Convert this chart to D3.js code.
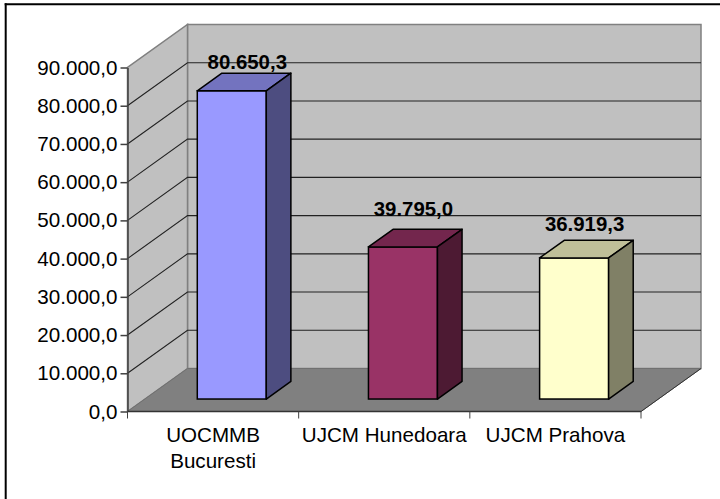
<!DOCTYPE html>
<html><head><meta charset="utf-8">
<style>html,body{margin:0;padding:0;background:#fff;overflow:hidden}svg{display:block}text{font-family:"Liberation Sans",Arial,sans-serif;fill:#000}</style>
<script src="https://cdn.jsdelivr.net/npm/d3@7"></script></head><body>
<svg id="c" width="720" height="499"></svg>
<script>
const categories=[["UOCMMB","Bucuresti"],["UJCM Hunedoara"],["UJCM Prahova"]];
const values=[80650.3,39795.0,36919.3];
const valueLabels=["80.650,3","39.795,0","36.919,3"];
const yTicks=[0,10000,20000,30000,40000,50000,60000,70000,80000,90000];
const yTickLabels=["0,0","10.000,0","20.000,0","30.000,0","40.000,0","50.000,0","60.000,0","70.000,0","80.000,0","90.000,0"];
const frontColors=["#9999ff","#993366","#ffffcc"];
const topColors=["#7373bf","#73264d","#bfbf99"];
const sideColors=["#4d4d80","#4d1a33","#808066"];

const svg=d3.select("#c");
const x=d3.scaleBand().domain(d3.range(3)).range([127.5,641]).paddingInner(0).paddingOuter(0);
const y=d3.scaleLinear().domain([0,90000]).range([411.5,67.5]);
const DX=60,DY=-43;
const FS=20.6,FB=20.4;

// frame: top and left edges only
svg.append("line").attr("x1",4.7).attr("x2",720).attr("y1",4.3).attr("y2",4.3).attr("stroke","#000").attr("stroke-width",2);
svg.append("line").attr("x1",5.7).attr("x2",5.7).attr("y1",3.3).attr("y2",499).attr("stroke","#000").attr("stroke-width",2);

const pts=a=>a.map(p=>p.join(",")).join(" ");
const X0=x.range()[0],X1=x.range()[1],Y0=y(0),Y1=y(90000);
// walls
svg.append("polygon").attr("points",pts([[X0+DX,Y0+DY],[X1+DX,Y0+DY],[X1+DX,Y1+DY],[X0+DX,Y1+DY]])).attr("fill","#c0c0c0").attr("stroke","#808080").attr("stroke-width",1.5);
svg.append("polygon").attr("points",pts([[X0,Y0],[X0+DX,Y0+DY],[X0+DX,Y1+DY],[X0,Y1]])).attr("fill","#c0c0c0").attr("stroke","#808080").attr("stroke-width",1.5);
// gridlines
yTicks.slice(1,-1).forEach(t=>{
  svg.append("polyline").attr("points",pts([[X0,y(t)],[X0+DX,y(t)+DY],[X1+DX,y(t)+DY]])).attr("fill","none").attr("stroke","#222").attr("stroke-width",1.1);
});
// floor
svg.append("polygon").attr("points",pts([[X0,Y0],[X1,Y0],[X1+DX,Y0+DY],[X0+DX,Y0+DY]])).attr("fill","#808080").attr("stroke","#707070").attr("stroke-width",1);
// axes
const axisL=d3.axisLeft(y).tickValues(yTicks).tickFormat((d,i)=>yTickLabels[i]).tickSize(7).tickSizeOuter(0).tickPadding(3);
const gy=svg.append("g").attr("transform","translate(127.5,0)").call(axisL);
gy.attr("font-family",null).attr("font-size",null);
gy.selectAll("path,line").attr("stroke","#404040").attr("stroke-width",1.5);
gy.selectAll("text").attr("font-size",FS);
svg.append("line").attr("x1",X0).attr("x2",X1).attr("y1",Y0).attr("y2",Y0).attr("stroke","#333").attr("stroke-width",1.5);
[X0,x(1),x(2),X1].forEach(px=>svg.append("line").attr("x1",px).attr("x2",px).attr("y1",Y0).attr("y2",Y0+7).attr("stroke","#404040").attr("stroke-width",1));
svg.append("line").attr("x1",X1).attr("y1",Y0).attr("x2",X1+DX).attr("y2",Y0+DY).attr("stroke","#333").attr("stroke-width",1);
// category labels
categories.forEach((lines,i)=>{
  const cx=x(i)+x.bandwidth()/2;
  lines.forEach((l,j)=>svg.append("text").attr("x",cx).attr("y",441.5+j*26.5).attr("text-anchor","middle").attr("font-size",FS).text(l));
});
// bars
const barW=69, f0=0.29, f1=0.70;
const labelLift=[4,13,9], labelShift=[50,45,45];
values.forEach((v,i)=>{
  const xl=x(i)+x.bandwidth()/2-barW/2+f0*DX+1.3;
  const xr=xl+barW;
  const yb=Y0+f0*DY, yt=y(v)+f0*DY;
  const ddx=(f1-f0)*DX, ddy=(f1-f0)*DY;
  svg.append("rect").attr("x",xl).attr("y",yt).attr("width",barW).attr("height",yb-yt).attr("fill",frontColors[i]).attr("stroke","#000").attr("stroke-width",1.5);
  svg.append("polygon").attr("points",pts([[xl,yt],[xr,yt],[xr+ddx,yt+ddy],[xl+ddx,yt+ddy]])).attr("fill",topColors[i]).attr("stroke","#000").attr("stroke-width",1.5).attr("stroke-linejoin","round");
  svg.append("polygon").attr("points",pts([[xr,yt],[xr+ddx,yt+ddy],[xr+ddx,yb+ddy],[xr,yb]])).attr("fill",sideColors[i]).attr("stroke","#000").attr("stroke-width",1.5).attr("stroke-linejoin","round");
  svg.append("text").attr("x",xl+labelShift[i]).attr("y",yt+ddy-labelLift[i]).attr("text-anchor","middle").attr("font-size",FB).attr("font-weight","bold").text(valueLabels[i]);
});
</script></body></html>
